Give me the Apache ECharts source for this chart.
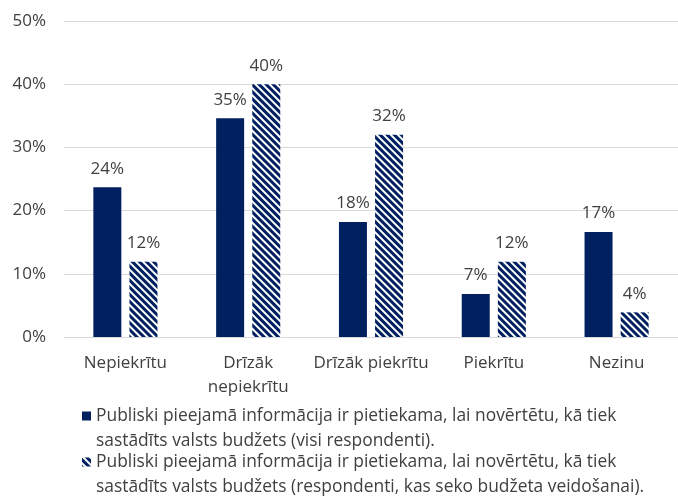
<!DOCTYPE html>
<html>
<head>
<meta charset="utf-8">
<script src="https://cdn.jsdelivr.net/npm/echarts@6/dist/echarts.min.js"></script>
<style>
  html, body { margin: 0; padding: 0; background: #fff; }
  #chart { width: 678px; height: 499px; }
</style>
</head>
<body>
<div id="chart"></div>
<script>
// kategorijas un vērtības (%)
var categories = ['Nepiekrītu', 'Drīzāk\nnepiekrītu', 'Drīzāk piekrītu', 'Piekrītu', 'Nezinu'];
var allValues = [23.7, 34.6, 18.2, 6.8, 16.6];
var followValues = [11.9, 40.0, 32.0, 11.9, 3.9];
var seriesNames = [
    'Publiski pieejamā informācija ir pietiekama, lai novērtētu, kā tiek sastādīts valsts budžets (visi respondenti).',
    'Publiski pieejamā informācija ir pietiekama, lai novērtētu, kā tiek sastādīts valsts budžets (respondenti, kas seko budžeta veidošanai).'
];
var yTicks = [0, 10, 20, 30, 40, 50];

var navy = '#002060';
var txt = '#404040';
var font = 'Open Sans';

var chart = echarts.init(document.getElementById('chart'));

var barLabel = {
    show: true,
    position: 'top',
    distance: 10,
    color: txt,
    fontFamily: font,
    fontSize: 17,
    formatter: function (p) { return Math.round(p.value) + '%'; }
};

var option = {
    animation: false,
    grid: {
        left: 64,
        right: -12,
        top: 21,
        bottom: 162
    },
    legend: {
        orient: 'vertical',
        left: 82,
        top: 378.5,
        height: 160,
        padding: 0,
        itemWidth: 9,
        itemHeight: 9,
        itemGap: -29,
        icon: 'rect',
        textStyle: {
            color: txt,
            fontFamily: font,
            fontSize: 17.4,
            lineHeight: 25
        },
        // pirmā rinda tukša, lai ikona būtu pretī pirmajai teksta rindai
        formatter: function (name) {
            var cut = name.indexOf('sastādīts');
            return '\n' + name.slice(0, cut).trim() + '\n' + name.slice(cut);
        },
        data: seriesNames
    },
    xAxis: {
        type: 'category',
        data: categories,
        axisLine: { show: true, lineStyle: { color: '#d9d9d9', width: 1 } },
        axisTick: { show: false },
        axisLabel: {
            interval: 0,
            margin: 14,
            color: txt,
            fontFamily: font,
            fontSize: 17,
            lineHeight: 24
        }
    },
    yAxis: {
        type: 'value',
        min: yTicks[0],
        max: yTicks[yTicks.length - 1],
        interval: 10,
        axisLine: { show: false },
        axisTick: { show: false },
        splitLine: { lineStyle: { color: '#d9d9d9', width: 1 } },
        axisLabel: {
            margin: 18,
            color: txt,
            fontFamily: font,
            fontSize: 17,
            formatter: '{value}%'
        }
    },
    series: [
        {
            name: seriesNames[0],
            type: 'bar',
            barWidth: 28,
            barGap: '29%',
            itemStyle: { color: navy },
            label: barLabel,
            data: allValues
        },
        {
            name: seriesNames[1],
            type: 'bar',
            barWidth: 28,
            barGap: '29%',
            itemStyle: {
                color: '#ffffff',
                decal: {
                    symbol: 'rect',
                    symbolSize: 1,
                    color: navy,
                    dashArrayX: [1, 0],
                    dashArrayY: [3, 2],
                    rotation: Math.PI / 4
                }
            },
            label: barLabel,
            data: followValues
        }
    ]
};

chart.setOption(option);
</script>
</body>
</html>
